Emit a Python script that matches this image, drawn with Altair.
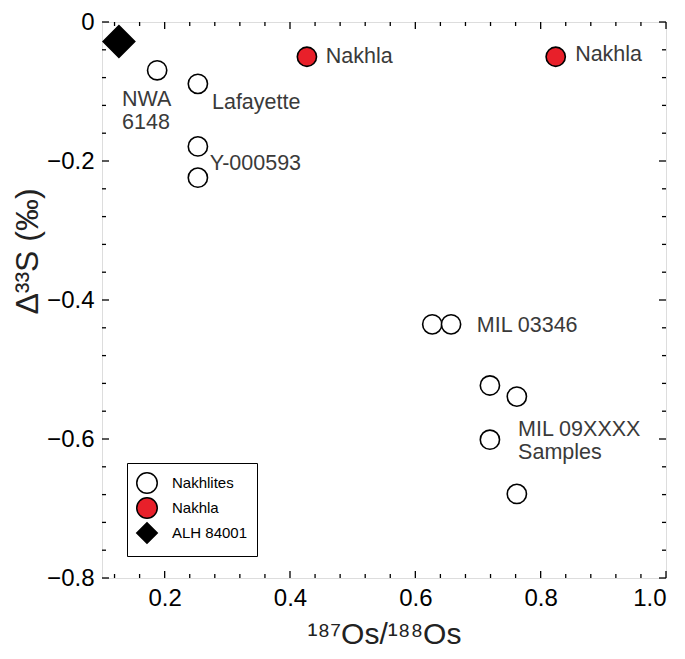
import altair as alt
import pandas as pd

# ---- data ----
nakhlite_x = [0.188, 0.253, 0.253, 0.253, 0.627, 0.657, 0.719, 0.762, 0.719, 0.762]
nakhlite_y = [-0.0695, -0.089, -0.179, -0.224, -0.435, -0.435, -0.523, -0.539, -0.601, -0.679]
nakhla_x = [0.427, 0.824]
nakhla_y = [-0.050, -0.050]
alh_x = [0.127]
alh_y = [-0.028]

groups = ["Nakhlites", "Nakhla", "ALH 84001"]

label_text = ["NWA", "6148", "Lafayette", "Y-000593", "Nakhla", "Nakhla",
              "MIL 03346", "MIL 09XXXX", "Samples"]
label_x = [0.132, 0.132, 0.2755, 0.272, 0.457, 0.855, 0.698, 0.764, 0.764]
label_y = [-0.112, -0.145, -0.116, -0.204, -0.051, -0.048, -0.438, -0.587, -0.620]

x_ticks = [0.12, 0.16, 0.20, 0.24, 0.28, 0.32, 0.36, 0.40, 0.44, 0.48, 0.52, 0.56,
           0.60, 0.64, 0.68, 0.72, 0.76, 0.80, 0.84, 0.88, 0.92, 0.96, 1.00]
x_labels = [0.2, 0.4, 0.6, 0.8, 1.0]
y_ticks = [0.0, -0.04, -0.08, -0.12, -0.16, -0.20, -0.24, -0.28, -0.32, -0.36, -0.40,
           -0.44, -0.48, -0.52, -0.56, -0.60, -0.64, -0.68, -0.72, -0.76, -0.80]
y_labels = [0.0, -0.2, -0.4, -0.6, -0.8]

W = 564
H = 556
FONT = "Liberation Sans"

pts = pd.DataFrame({
    "x": nakhlite_x + nakhla_x + alh_x,
    "y": nakhlite_y + nakhla_y + alh_y,
    "group": [groups[0]] * len(nakhlite_x) + [groups[1]] * len(nakhla_x) + [groups[2]] * len(alh_x),
})
labels = pd.DataFrame({"x": label_x, "y": label_y, "t": label_text})
xt = pd.DataFrame({"v": x_ticks, "major": [round(v * 10, 6) % 2 == 0 for v in x_ticks]})
yt = pd.DataFrame({"v": y_ticks, "major": [abs(round(v * 10, 6)) % 2 == 0 for v in y_ticks]})

xscale = alt.Scale(domain=[0.1, 1.0], nice=False, zero=False)
yscale = alt.Scale(domain=[-0.8, 0.0], nice=False, zero=False)

xaxis = alt.Axis(values=x_labels, format=".1f", grid=False, ticks=False, domain=False,
                 labelFont=FONT, labelFontSize=24, labelColor="black", labelPadding=8,
                 title="¹⁸⁷Os/¹⁸⁸Os", titleFont=FONT, titleFontSize=30,
                 titleFontWeight="normal", titleColor="#222222", titlePadding=9)
yaxis = alt.Axis(values=y_labels, grid=False, ticks=False, domain=False,
                 labelExpr="datum.value == 0 ? '0' : format(datum.value, '.1f')",
                 labelFont=FONT, labelFontSize=24, labelColor="black", labelPadding=8,
                 title="Δ³³S (‰)", titleFont=FONT, titleFontSize=32,
                 titleFontWeight="normal", titleColor="#222222",
                 titleX=-75, titleY=229, titleAlign="center", titleBaseline="middle",
                 titleAngle=270)


def X(field):
    return alt.X(f"{field}:Q", scale=xscale, axis=xaxis)


def Y(field):
    return alt.Y(f"{field}:Q", scale=yscale, axis=yaxis)


legend = alt.Legend(title=None, orient="none", legendX=25, legendY=441,
                    labelFont=FONT, labelFontSize=15, labelColor="black",
                    strokeColor="black", fillColor="white", padding=9,
                    symbolStrokeWidth=1.5, symbolSize=420,
                    labelOffset=14, rowPadding=-4)

fill_enc = alt.Fill("group:N", scale=alt.Scale(domain=groups, range=["white", "#e8202a", "black"]),
                    legend=legend)
shape_enc = alt.Shape("group:N", scale=alt.Scale(domain=groups, range=["circle", "circle", "diamond"]),
                      legend=legend)
stroke_enc = alt.Stroke("group:N", scale=alt.Scale(domain=groups, range=["black", "black", "black"]),
                        legend=legend)

circles = alt.Chart(pts).transform_filter("datum.group != 'ALH 84001'").mark_point(
    filled=True, strokeWidth=1.6, opacity=1, size=370, clip=False).encode(
    x=X("x"), y=Y("y"), fill=fill_enc, shape=shape_enc, stroke=stroke_enc)

diamonds = alt.Chart(pts).transform_filter("datum.group == 'ALH 84001'").mark_point(
    filled=True, strokeWidth=1.6, opacity=1, size=1000, clip=False).encode(
    x=X("x"), y=Y("y"), fill=fill_enc, shape=shape_enc, stroke=stroke_enc)

texts = alt.Chart(labels).mark_text(align="left", baseline="middle", font=FONT,
                                    fontSize=21.5, color="#3a3a3a").encode(
    x=X("x"), y=Y("y"), text="t:N")

MAJ = 7
MIN = 4


def tick_layers():
    layers = []
    for is_major, ln in ((True, MAJ), (False, MIN)):
        flt = "datum.major" if is_major else "!datum.major"
        layers.append(alt.Chart(xt).transform_filter(flt).mark_rule(color="black", strokeWidth=1.3)
                      .encode(x=X("v"), y=alt.value(0), y2=alt.value(ln)))
        layers.append(alt.Chart(xt).transform_filter(flt).mark_rule(color="black", strokeWidth=1.3)
                      .encode(x=X("v"), y=alt.value(H), y2=alt.value(H - ln)))
        layers.append(alt.Chart(yt).transform_filter(flt).mark_rule(color="black", strokeWidth=1.3)
                      .encode(y=Y("v"), x=alt.value(0), x2=alt.value(ln)))
        layers.append(alt.Chart(yt).transform_filter(flt).mark_rule(color="black", strokeWidth=1.3)
                      .encode(y=Y("v"), x=alt.value(W), x2=alt.value(W - ln)))
    return layers


chart = alt.layer(*tick_layers(), texts, circles, diamonds).properties(
    width=W, height=H,
    autosize=alt.AutoSizeParams(type="none"),
    padding={"left": 94, "top": 14, "right": 11, "bottom": 73},
).configure_view(stroke="black", strokeWidth=1.6).configure(background="white")

chart.save("out.html", embed_options={"renderer": "svg", "actions": False})
